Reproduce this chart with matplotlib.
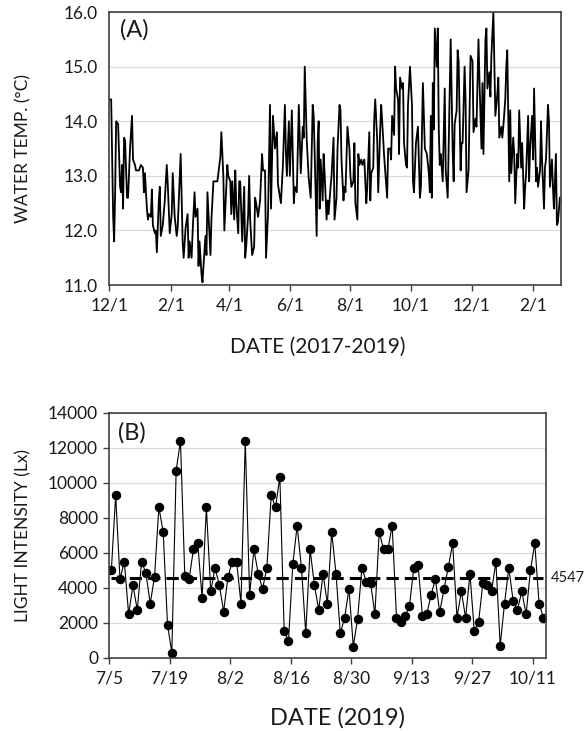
import matplotlib
matplotlib.use('Agg')
import matplotlib.pyplot as plt
import matplotlib.dates as mdates
import numpy as np

plt.rcParams['font.family'] = ['Lato', 'DejaVu Sans']

# (A) water temperature: days after 2017-12-01 and deg C
temp_day = [0, 2, 4, 5, 6, 7, 9, 11, 12, 13, 14, 15, 16, 18, 19, 21, 23, 24, 26, 27,
            28, 30, 32, 34, 35, 36, 38, 39, 40, 42, 43, 44, 46, 47, 48, 50, 51, 52, 54, 56,
            58, 59, 61, 63, 64, 66, 68, 69, 72, 74, 75, 77, 79, 80, 81, 83, 84, 86, 87, 89,
            90, 91, 93, 94, 95, 97, 98, 99, 101, 102, 103, 105, 107, 109, 111, 112, 113, 115, 116, 118,
            119, 120, 122, 123, 124, 126, 127, 128, 130, 131, 132, 134, 136, 137, 138, 140, 141, 142, 144, 146,
            147, 148, 150, 152, 154, 155, 157, 158, 160, 162, 163, 165, 167, 169, 170, 173, 175, 177, 178, 179,
            181, 182, 184, 186, 187, 189, 191, 193, 195, 196, 197, 199, 201, 203, 205, 206, 207, 209, 210, 211,
            212, 213, 215, 216, 217, 219, 220, 221, 223, 224, 226, 227, 229, 230, 232, 233, 234, 236, 237, 238,
            240, 242, 243, 244, 246, 247, 248, 250, 251, 252, 254, 255, 257, 259, 260, 262, 263, 264, 266, 267,
            268, 270, 271, 273, 274, 275, 277, 279, 280, 281, 283, 284, 285, 287, 288, 289, 291, 292, 293, 295,
            296, 297, 299, 300, 301, 303, 305, 306, 307, 309, 311, 313, 314, 316, 318, 320, 322, 323, 324, 325,
            326, 327, 328, 330, 331, 332, 333, 334, 336, 338, 339, 341, 344, 346, 347, 348, 350, 351, 352, 354,
            355, 356, 358, 359, 360, 362, 363, 364, 366, 367, 369, 370, 372, 373, 375, 376, 377, 379, 380, 381,
            383, 384, 385, 387, 388, 389, 391, 392, 393, 395, 396, 397, 399, 400, 401, 403, 404, 405, 407, 408,
            409, 411, 412, 413, 415, 416, 418, 419, 420, 422, 423, 424, 426, 427, 428, 430, 431, 432, 434, 435,
            436, 438, 439, 440, 442, 443, 444, 446, 447, 448, 450, 451, 452, 454]
temp_val = [14.4, 14.4, 12.25, 11.8, 12.7, 14.0, 13.95, 12.8, 12.7, 13.2, 12.4, 13.7, 13.65, 12.6, 12.6, 13.5, 14.1, 13.3, 13.2, 13.1,
            13.1, 13.1, 13.2, 13.15, 12.7, 13.05, 12.4, 12.2, 12.3, 12.25, 12.75, 12.1, 11.95, 12.0, 11.6, 12.55, 12.8, 11.9, 12.1, 12.55,
            13.2, 12.85, 11.95, 12.3, 13.05, 12.25, 11.9, 12.05, 13.4, 11.8, 11.5, 12.05, 12.3, 11.5, 11.8, 11.5, 11.95, 12.7, 12.25, 12.4,
            11.35, 11.8, 11.2, 11.05, 11.35, 11.9, 11.55, 12.7, 11.95, 11.55, 12.2, 12.9, 12.9, 12.9, 13.2, 13.35, 13.8, 13.0, 12.0, 12.8,
            13.2, 13.0, 12.9, 12.3, 12.9, 12.2, 13.1, 12.5, 11.95, 12.9, 12.9, 11.8, 12.8, 11.5, 11.7, 12.3, 13.0, 12.2, 11.55, 11.7,
            12.6, 12.5, 12.25, 12.55, 13.4, 13.1, 13.1, 11.5, 12.3, 14.3, 12.4, 14.1, 13.5, 13.8, 12.85, 12.5, 13.2, 14.3, 13.45, 13.0,
            14.0, 13.0, 14.2, 12.5, 12.8, 12.7, 14.3, 13.05, 13.9, 13.7, 15.0, 13.65, 12.95, 12.6, 14.3, 14.1, 13.4, 11.9, 13.6, 14.0,
            12.4, 13.3, 12.55, 13.4, 13.05, 12.2, 12.55, 12.3, 12.8, 13.0, 13.7, 12.2, 12.6, 13.5, 14.3, 14.2, 13.3, 12.55, 12.8, 12.7,
            13.9, 13.5, 13.0, 12.8, 12.9, 13.6, 12.5, 12.2, 13.4, 13.2, 13.3, 13.2, 13.3, 12.5, 12.8, 13.8, 12.55, 13.05, 13.15, 14.05,
            14.4, 13.65, 12.7, 13.85, 14.3, 14.0, 13.35, 12.85, 12.6, 13.5, 13.5, 13.3, 14.1, 13.75, 15.0, 14.6, 14.4, 13.4, 14.8, 14.6,
            14.7, 13.6, 13.2, 13.15, 14.3, 15.0, 14.3, 12.9, 12.7, 13.6, 13.9, 12.6, 12.8, 14.7, 13.5, 13.4, 13.05, 12.7, 14.1, 12.6,
            14.7, 13.85, 15.7, 15.0, 15.7, 13.85, 13.2, 13.4, 12.9, 14.6, 13.1, 12.6, 15.5, 13.45, 12.9, 13.95, 14.2, 15.3, 15.1, 13.1,
            13.6, 13.6, 15.0, 14.4, 12.7, 13.1, 14.1, 15.2, 15.1, 13.8, 14.05, 13.9, 15.5, 14.75, 13.5, 14.7, 13.4, 15.5, 15.7, 14.6,
            14.9, 14.45, 15.2, 16.0, 15.0, 14.1, 14.5, 14.8, 13.7, 13.9, 13.7, 13.9, 14.4, 15.0, 15.3, 12.9, 14.2, 13.05, 13.7, 13.4,
            12.5, 13.4, 13.15, 14.2, 13.15, 13.6, 12.4, 12.8, 13.05, 14.1, 12.9, 13.5, 14.1, 13.3, 14.6, 12.9, 13.15, 12.8, 13.1, 14.0,
            13.3, 12.4, 13.15, 13.3, 14.3, 14.0, 12.8, 13.3, 12.8, 12.4, 13.4, 12.1, 12.15, 12.6]
temp_start = np.datetime64('2017-12-01')
temp_end = np.datetime64('2019-03-01')
temp_ticks = ['2017-12-01', '2018-02-01', '2018-04-01', '2018-06-01',
              '2018-08-01', '2018-10-01', '2018-12-01', '2019-02-01']

# (B) daily light intensity from 2019-07-05
light_val = [5000, 9300, 4500, 5500, 2500, 4150, 2750, 5500, 4850, 3100,
             4650, 8600, 7200, 1900, 300, 10700, 12400, 4700, 4500, 6200,
             6550, 3450, 8600, 3800, 5150, 4150, 2650, 4650, 5500, 5500,
             3100, 12400, 3600, 6200, 4800, 3950, 5150, 9300, 8600, 10350,
             1550, 950, 5350, 7550, 5150, 1400, 6200, 4150, 2750, 4800,
             3100, 7200, 4800, 1400, 2300, 3950, 650, 2250, 5150, 4350,
             4300, 2500, 7200, 6200, 6200, 7550, 2300, 2050, 2400, 2950,
             5150, 5300, 2400, 2500, 3600, 4500, 2600, 3950, 5200, 6550,
             2300, 3800, 2300, 4800, 1550, 2050, 4300, 4150, 3800, 5500,
             700, 3100, 5150, 3250, 2750, 3800, 2500, 5000, 6550, 3100,
             2300]
light_mean = 4547
light_start = np.datetime64('2019-07-05')
light_end = np.datetime64('2019-10-14')


def md_label(v, pos):
    d = mdates.num2date(v)
    return f"{d.month}/{d.day}"


fig = plt.figure(figsize=(5.87, 7.31), dpi=100)
spine_col = '#404040'
grid_col = '#d9d9d9'
txt_col = '#1a1a1a'
tick_fs = 12.5

# ---- panel A
ax1 = fig.add_axes([0.186, 0.610, 0.7695, 0.3735])
t_dates = temp_start + np.array(temp_day).astype('timedelta64[D]')
ax1.plot(t_dates, temp_val, color='black', lw=1.3)
ax1.set_xlim(temp_start, temp_end)
ax1.set_ylim(11, 16)
ax1.set_yticks([11, 12, 13, 14, 15, 16])
ax1.yaxis.set_major_formatter(plt.FuncFormatter(lambda v, p: f"{v:.1f}"))
ax1.set_xticks(mdates.date2num(np.array(temp_ticks, dtype='datetime64[D]')))
ax1.xaxis.set_major_formatter(plt.FuncFormatter(md_label))
ax1.grid(axis='y', color=grid_col, lw=0.9)
ax1.set_axisbelow(True)
ax1.tick_params(axis='y', length=0, pad=8, labelsize=tick_fs, colors=txt_col)
ax1.tick_params(axis='x', length=4, width=1, color=spine_col, pad=5, labelsize=tick_fs, labelcolor=txt_col)
ax1.set_ylabel('WATER TEMP. (\u00b0C)', fontsize=12.5, color=txt_col)
ax1.yaxis.set_label_coords(-0.172, 0.5)
ax1.set_xlabel('DATE (2017-2019)', fontsize=15, color=txt_col)
ax1.xaxis.set_label_coords(0.462, -0.19)
ax1.text(0.025, 0.935, '(A)', transform=ax1.transAxes, fontsize=17, color=txt_col, va='center')
for s in ax1.spines.values():
    s.set_color(spine_col)
    s.set_linewidth(1.2)

# ---- panel B
ax2 = fig.add_axes([0.186, 0.100, 0.7434, 0.3352])
l_dates = light_start + np.arange(len(light_val)).astype('timedelta64[D]') + np.timedelta64(12, 'h')
ax2.plot(l_dates, [light_mean] * len(light_val), color='black', lw=2.2, dashes=(4, 2))
ax2.plot(l_dates, light_val, color='black', lw=0.8, marker='o', ms=5.8)
ax2.set_xlim(light_start, light_end)
ax2.set_ylim(0, 14000)
ax2.set_yticks(range(0, 14001, 2000))
ax2.set_xticks(mdates.date2num(np.arange(light_start, light_end, 14)))
ax2.xaxis.set_major_formatter(plt.FuncFormatter(md_label))
ax2.grid(axis='y', color=grid_col, lw=0.9)
ax2.set_axisbelow(True)
ax2.tick_params(axis='y', length=4, width=1, color=spine_col, pad=4, labelsize=tick_fs, labelcolor=txt_col)
ax2.tick_params(axis='x', length=4, width=1, color=spine_col, pad=5, labelsize=tick_fs, labelcolor=txt_col)
ax2.set_ylabel('LIGHT INTENSITY (Lx)', fontsize=12.5, color=txt_col)
ax2.yaxis.set_label_coords(-0.178, 0.5)
ax2.set_xlabel('DATE (2019)', fontsize=17, color=txt_col)
ax2.xaxis.set_label_coords(0.523, -0.2)
ax2.text(0.02, 0.92, '(B)', transform=ax2.transAxes, fontsize=17, color=txt_col, va='center')
ax2.text(1.012, light_mean, str(light_mean), transform=ax2.get_yaxis_transform(),
         fontsize=10.5, color=txt_col, va='center')
for s in ax2.spines.values():
    s.set_color(spine_col)
    s.set_linewidth(1.2)

fig.savefig('out.png', dpi=100)
